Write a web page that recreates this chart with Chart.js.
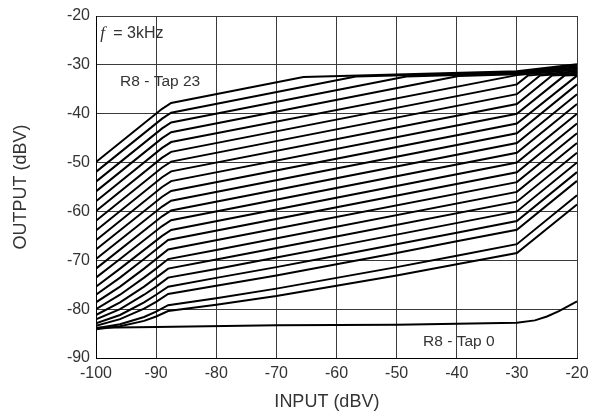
<!DOCTYPE html>
<html>
<head>
<meta charset="utf-8">
<script src="https://cdn.jsdelivr.net/npm/chart.js@4/dist/chart.umd.min.js"></script>
<style>
  html, body { margin: 0; padding: 0; background: #fff; }
  #wrap { width: 598px; height: 416px; }
</style>
</head>
<body>
<div id="wrap"><canvas id="tapChart" width="598" height="416"></canvas></div>
<script>
// Axis ticks (dBV)
const xTicks = [-100, -90, -80, -70, -60, -50, -40, -30, -20];
const yTicks = [-90, -80, -70, -60, -50, -40, -30, -20];

// Output vs input for each R8 tap, [input dBV, output dBV]
const tap0 = [[-100, -83.8], [-90, -83.65], [-70, -83.3], [-50, -83.2], [-30, -82.8], [-27, -82.3], [-25, -81.5], [-23, -80.4], [-20, -78.4]];
const tap1 = [[-100, -84.1], [-96, -83.5], [-92, -82.4], [-90, -81.5], [-88, -80.4], [-80, -79.1], [-70, -77.3], [-60, -75.2], [-50, -73.1], [-40, -70.8], [-30, -68.5], [-20, -58.6]];
const tap2 = [[-100, -83.9], [-96, -83.1], [-92, -81.6], [-90, -80.5], [-88, -79.2], [-80, -77.75], [-70, -75.8], [-60, -73.6], [-50, -71.4], [-40, -69.05], [-30, -66.7], [-20, -56.7]];
const tap3 = [[-100, -83.4], [-96, -82.05], [-92, -79.9], [-90, -78.5], [-88, -76.9], [-80, -75.2], [-70, -73.1], [-60, -70.8], [-50, -68.5], [-40, -66.1], [-30, -63.75], [-20, -53.75]];
const tap4 = [[-100, -82.9], [-96, -81.2], [-92, -78.6], [-90, -77.05], [-88, -75.4], [-80, -73.6], [-70, -71.4], [-60, -69.05], [-50, -66.7], [-40, -64.35], [-30, -61.95], [-20, -51.95]];
const tap5 = [[-100, -82.1], [-96, -80.0], [-92, -77.05], [-90, -75.4], [-88, -73.55], [-80, -71.8], [-70, -69.45], [-60, -67.1], [-50, -64.75], [-30, -60.0], [-20, -50.0]];
const tap6 = [[-100, -81.2], [-96, -78.6], [-92, -75.4], [-90, -73.55], [-88, -71.7], [-80, -69.85], [-70, -67.5], [-60, -65.15], [-30, -58.0], [-20, -48.0]];
const tap7 = [[-100, -80.0], [-96, -77.05], [-92, -73.55], [-90, -71.7], [-88, -69.75], [-80, -67.9], [-30, -56.0], [-20, -46.0]];
const tap8 = [[-100, -78.6], [-96, -75.4], [-92, -71.7], [-88, -67.8], [-30, -54.0], [-20, -44.0]];
const tap9 = [[-100, -77.05], [-96, -73.55], [-92, -69.75], [-88, -65.85], [-30, -52.0], [-20, -42.0]];
const tap10 = [[-100, -75.4], [-96, -71.7], [-89, -65.0], [-87.5, -63.8], [-30, -50.0], [-20, -40.0]];
const tap11 = [[-100, -73.55], [-96, -69.75], [-89, -63.0], [-87.5, -61.8], [-30, -48.0], [-20, -38.0]];
const tap12 = [[-100, -71.7], [-89, -61.0], [-87.5, -59.8], [-30, -46.0], [-20, -36.0]];
const tap13 = [[-100, -69.75], [-89, -59.0], [-87.5, -57.8], [-30, -44.0], [-20, -34.0]];
const tap14 = [[-100, -67.8], [-89, -57.0], [-87.5, -55.8], [-30, -42.0], [-20, -32.2]];
const tap15 = [[-100, -65.9], [-89, -55.0], [-87.5, -53.8], [-30, -40.0], [-22.1, -32.2], [-20, -32.1]];
const tap16 = [[-100, -63.9], [-89, -53.0], [-87.5, -51.8], [-30, -38.0], [-24.2, -32.2], [-20, -31.9]];
const tap17 = [[-100, -61.9], [-89, -51.0], [-87.5, -49.8], [-30, -36.0], [-26.2, -32.2], [-20, -31.6]];
const tap18 = [[-100, -59.9], [-89, -49.0], [-87.5, -47.8], [-30, -34.0], [-28.2, -32.2], [-20, -31.3]];
const tap19 = [[-100, -57.9], [-89, -47.0], [-87.5, -45.8], [-30, -32.1], [-20, -31.0]];
const tap20 = [[-100, -55.9], [-89, -45.0], [-87.5, -43.8], [-39.7, -32.3], [-30, -31.9], [-20, -30.7]];
const tap21 = [[-100, -53.9], [-89, -43.0], [-87.5, -41.8], [-48.4, -32.4], [-30, -31.7], [-20, -30.5]];
const tap22 = [[-100, -51.9], [-89, -41.0], [-87.5, -39.8], [-56.8, -32.4], [-30, -31.5], [-20, -30.2]];
const tap23 = [[-100, -49.9], [-89, -39.0], [-87.5, -37.8], [-65.5, -32.5], [-30, -31.3], [-20, -29.9]];

const taps = [tap0, tap1, tap2, tap3, tap4, tap5, tap6, tap7, tap8, tap9, tap10, tap11,
  tap12, tap13, tap14, tap15, tap16, tap17, tap18, tap19, tap20, tap21, tap22, tap23];

// Notes written on the plot, placed in data units
const notes = [
  { text: '= 3kHz', x: -99.3, y: -23.5, italicF: true, size: 16 },
  { text: 'R8 - Tap 23', x: -96.0, y: -33.4, size: 15.5 },
  { text: 'R8 - Tap 0', x: -45.6, y: -86.7, size: 15.5 }
];

const FONT = "'Liberation Sans', Arial, sans-serif";
const TEXT = '#333';

const notesPlugin = {
  id: 'notes',
  afterDatasetsDraw(chart) {
    const { ctx, scales: { x, y } } = chart;
    ctx.save();
    ctx.fillStyle = TEXT;
    ctx.textBaseline = 'middle';
    ctx.textAlign = 'left';
    notes.forEach(n => {
      let px = x.getPixelForValue(n.x);
      const py = y.getPixelForValue(n.y);
      if (n.italicF) {
        ctx.font = "italic 17px 'Liberation Serif', serif";
        ctx.fillText('f', px, py);
        px += 13;
      }
      ctx.font = n.size + 'px ' + FONT;
      ctx.fillText(n.text, px, py);
    });
    // x axis title, sits a little left of the plot centre in the original
    ctx.font = '18px ' + FONT;
    ctx.textAlign = 'center';
    ctx.fillText('INPUT (dBV)', x.getPixelForValue(-61.6), y.bottom + 44);
    ctx.restore();
  }
};

const ctx = document.getElementById('tapChart').getContext('2d');

new Chart(ctx, {
  type: 'scatter',
  data: {
    datasets: taps.map((pts, i) => ({
      label: 'Tap ' + i,
      data: pts.map(([x, y]) => ({ x, y })),
      showLine: true,
      borderColor: '#000',
      borderWidth: 2,
      pointRadius: 0,
      tension: 0,
      fill: false
    }))
  },
  options: {
    responsive: false,
    animation: false,
    layout: { padding: { top: 16, right: 21, left: 0, bottom: 0 } },
    plugins: {
      legend: { display: false },
      tooltip: { enabled: false }
    },
    scales: {
      x: {
        type: 'linear',
        min: -100,
        max: -20,
        afterBuildTicks: s => { s.ticks = xTicks.map(v => ({ value: v })); },
        afterFit: s => { s.height = 58; },
        grid: { color: '#3a3a3a', lineWidth: 1, drawTicks: false },
        border: { color: '#000', width: 1 },
        ticks: { color: TEXT, font: { family: FONT, size: 16 }, padding: 6, maxRotation: 0 },
        title: { display: false }
      },
      y: {
        type: 'linear',
        min: -90,
        max: -20,
        afterBuildTicks: s => { s.ticks = yTicks.map(v => ({ value: v })); },
        afterFit: s => { s.width = 96; },
        grid: { color: '#3a3a3a', lineWidth: 1, drawTicks: false },
        border: { color: '#000', width: 1 },
        ticks: { color: TEXT, font: { family: FONT, size: 16 }, padding: 6 },
        title: { display: true, text: 'OUTPUT (dBV)', color: TEXT, font: { family: FONT, size: 18 }, padding: { top: 10, bottom: 0 } }
      }
    }
  },
  plugins: [notesPlugin]
});
</script>
</body>
</html>
